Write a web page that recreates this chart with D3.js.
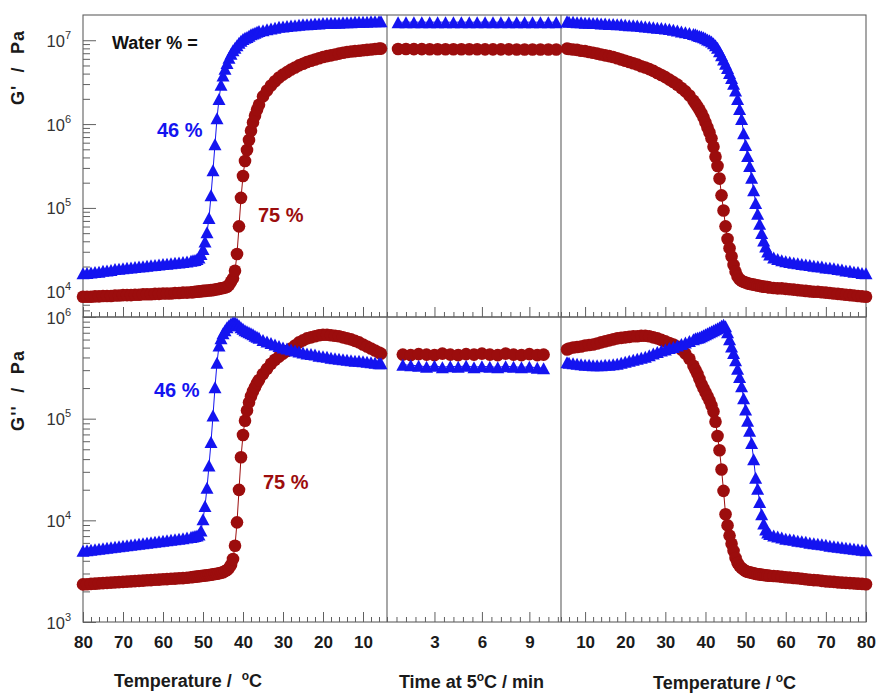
<!DOCTYPE html>
<html><head><meta charset="utf-8">
<script src="https://cdn.jsdelivr.net/npm/d3@7"></script>
<style>
body{margin:0;background:#fff}
svg{display:block}
text{font-family:"Liberation Sans",Arial,Helvetica,sans-serif}
</style>
</head><body>
<svg id="c" width="877" height="694"></svg>
<script>
// ---------------- DATA (log10 of modulus in Pa) ----------------
// Cooling ramp 80 -> 5.5 °C (left panels)
const coolTemps = [80,79,78,77,76,75,74,73,72,71,70,69,68,67,66,65,64,63,62,61,60,59,58,57,56,55,54,53,
  52.5,52,51.5,51,50.5,50,49.5,49,48.5,48,47.5,47,46.5,46,45.5,45,44.5,44,43.5,43,42.5,42,41.5,41,40.5,40,39.5,39,38.5,38,37.5,37,36.5,36,
  35,34,33,32,31,30,29,28,27,26,25,24,23,22,21,20,19,18,17,16,15,14,13,12,11,10,9,8,7,6,5.5];
// Heating ramp 5.5 -> 80 °C (right panels)
const heatTemps = [5.5,6,7,8,9,10,11,12,13,14,15,16,17,18,19,20,21,22,23,24,25,26,27,28,29,30,31,32,33,34,35,36,37,
  37.5,38,38.5,39,39.5,40,40.5,41,41.5,42,42.5,43,43.5,44,44.5,45,45.5,46,46.5,47,47.5,48,48.5,49,49.5,50,50.5,51,51.5,52,52.5,53,53.5,54,54.5,55,55.5,56,
  57,58,59,60,61,62,63,64,65,66,67,68,69,70,71,72,73,74,75,76,77,78,79,80];
// Isothermal hold at 5 °C (middle panels), minutes
const holdTimeTop = [0.7,1.2,1.7,2.2,2.7,3.2,3.7,4.2,4.7,5.2,5.7,6.2,6.7,7.2,7.7,8.2,8.7,9.2,9.7,10.2,10.7];
const holdTimeBottom = [1.0,1.5,2.0,2.5,3.0,3.5,4.0,4.5,5.0,5.5,6.0,6.5,7.0,7.5,8.0,8.5,9.0,9.5,9.9];

// G' 46 % water, cooling
const logGp46Cool = [4.22,4.225,4.23,4.235,4.24,4.25,4.255,4.26,4.27,4.275,4.28,4.285,4.29,4.295,4.30,4.305,4.31,4.315,4.32,4.325,4.33,4.335,4.34,4.345,4.35,4.355,4.36,4.37,
  4.375,4.38,4.39,4.41,4.45,4.51,4.60,4.71,4.88,5.15,5.45,5.76,6.07,6.30,6.47,6.58,6.66,6.73,6.79,6.84,6.88,6.91,6.94,6.97,6.995,7.015,7.03,7.04,7.055,7.07,7.08,7.09,7.10,7.11,
  7.12,7.13,7.14,7.15,7.16,7.165,7.17,7.175,7.18,7.185,7.19,7.19,7.195,7.20,7.20,7.205,7.205,7.21,7.21,7.21,7.215,7.215,7.215,7.22,7.22,7.22,7.22,7.225,7.225,7.225,7.225];
// G' 75 % water, cooling
const logGp75Cool = [3.94,3.94,3.94,3.945,3.945,3.95,3.95,3.95,3.955,3.955,3.96,3.96,3.96,3.965,3.965,3.97,3.97,3.97,3.975,3.975,3.98,3.98,3.98,3.985,3.985,3.99,3.99,3.995,
  3.995,4.0,4.0,4.005,4.005,4.01,4.01,4.015,4.015,4.02,4.02,4.025,4.03,4.035,4.04,4.045,4.05,4.06,4.08,4.12,4.16,4.25,4.45,4.78,5.12,5.38,5.56,5.69,5.81,5.92,6.02,6.10,6.17,6.23,
  6.33,6.40,6.46,6.51,6.555,6.59,6.62,6.65,6.675,6.70,6.72,6.74,6.755,6.77,6.785,6.80,6.81,6.82,6.83,6.84,6.85,6.86,6.865,6.87,6.875,6.88,6.885,6.89,6.895,6.90,6.90];
// G'' 46 % water, cooling
const logGpp46Cool = [3.70,3.705,3.71,3.715,3.72,3.725,3.73,3.735,3.74,3.745,3.75,3.755,3.76,3.765,3.77,3.775,3.78,3.785,3.79,3.795,3.80,3.805,3.81,3.815,3.82,3.825,3.83,3.835,
  3.84,3.845,3.85,3.86,3.90,4.01,4.14,4.32,4.54,4.77,5.03,5.31,5.55,5.72,5.79,5.84,5.87,5.90,5.92,5.935,5.945,5.945,5.935,5.92,5.90,5.885,5.87,5.86,5.85,5.84,5.83,5.815,5.805,5.795,
  5.775,5.76,5.745,5.73,5.715,5.70,5.69,5.68,5.67,5.66,5.65,5.64,5.635,5.63,5.62,5.615,5.61,5.60,5.595,5.59,5.585,5.58,5.575,5.57,5.57,5.565,5.56,5.555,5.55,5.545,5.545];
// G'' 75 % water, cooling
const logGpp75Cool = [3.37,3.372,3.375,3.377,3.38,3.382,3.385,3.387,3.39,3.392,3.395,3.397,3.40,3.402,3.405,3.407,3.41,3.412,3.415,3.417,3.42,3.422,3.425,3.427,3.43,3.432,3.435,3.44,
  3.442,3.445,3.447,3.45,3.452,3.455,3.457,3.46,3.462,3.465,3.47,3.472,3.475,3.48,3.485,3.49,3.50,3.51,3.53,3.56,3.62,3.75,3.98,4.30,4.62,4.84,4.98,5.08,5.16,5.22,5.27,5.31,5.35,5.38,
  5.44,5.49,5.54,5.58,5.61,5.64,5.665,5.69,5.72,5.75,5.77,5.79,5.80,5.81,5.82,5.825,5.825,5.82,5.815,5.81,5.80,5.79,5.78,5.765,5.75,5.73,5.71,5.69,5.67,5.65,5.64];

// G' 46 % water, heating
const logGp46Heat = [7.225,
  7.22,7.22,7.215,7.215,7.21,7.21,7.205,7.205,7.20,7.20,7.195,7.195,7.19,7.19,7.185,7.18,7.18,7.175,7.17,7.165,7.16,7.155,7.15,7.145,7.14,7.135,7.125,7.115,7.105,7.095,7.085,7.075,
  7.07,7.06,7.05,7.045,7.035,7.025,7.01,7.0,6.985,6.965,6.94,6.91,6.87,6.82,6.77,6.72,6.67,6.61,6.55,6.48,6.40,6.30,6.18,6.06,5.89,5.75,5.62,5.50,5.36,5.21,5.06,4.93,4.81,4.70,4.61,4.54,4.48,4.445,
  4.41,4.39,4.375,4.365,4.355,4.345,4.34,4.33,4.325,4.32,4.31,4.305,4.30,4.29,4.285,4.28,4.27,4.265,4.255,4.25,4.24,4.235,4.225,4.22];
// G' 75 % water, heating
const logGp75Heat = [6.90,
  6.895,6.89,6.885,6.875,6.87,6.86,6.85,6.84,6.83,6.82,6.81,6.80,6.785,6.77,6.755,6.74,6.725,6.71,6.69,6.675,6.655,6.635,6.61,6.585,6.56,6.53,6.50,6.47,6.43,6.39,6.34,6.28,
  6.245,6.21,6.17,6.13,6.08,6.02,5.96,5.90,5.83,5.73,5.61,5.50,5.35,5.15,4.97,4.78,4.63,4.52,4.42,4.32,4.24,4.18,4.15,4.13,4.12,4.11,4.10,4.095,4.09,4.085,4.08,4.075,4.07,4.065,4.06,4.06,4.055,4.05,
  4.045,4.04,4.04,4.035,4.03,4.025,4.02,4.015,4.01,4.005,4.0,4.0,3.995,3.99,3.985,3.98,3.975,3.97,3.965,3.96,3.955,3.95,3.945,3.94];
// G'' 46 % water, heating
const logGpp46Heat = [5.555,
  5.55,5.545,5.54,5.535,5.53,5.53,5.525,5.525,5.525,5.53,5.53,5.535,5.54,5.55,5.56,5.57,5.58,5.59,5.60,5.61,5.625,5.64,5.655,5.67,5.68,5.695,5.705,5.72,5.735,5.75,5.765,5.78,
  5.79,5.795,5.80,5.81,5.82,5.83,5.84,5.85,5.86,5.87,5.88,5.89,5.90,5.915,5.925,5.91,5.85,5.78,5.71,5.645,5.575,5.49,5.41,5.32,5.20,5.09,4.98,4.88,4.76,4.60,4.42,4.31,4.18,4.06,3.97,3.91,3.88,3.865,
  3.85,3.84,3.83,3.82,3.815,3.81,3.80,3.795,3.79,3.78,3.775,3.77,3.765,3.76,3.75,3.745,3.74,3.735,3.73,3.725,3.72,3.715,3.71,3.705];
// G'' 75 % water, heating
const logGpp75Heat = [5.68,
  5.69,5.70,5.705,5.71,5.72,5.725,5.73,5.74,5.75,5.76,5.77,5.78,5.79,5.795,5.80,5.805,5.81,5.81,5.815,5.815,5.81,5.80,5.79,5.775,5.76,5.745,5.73,5.71,5.68,5.64,5.59,5.52,
  5.48,5.44,5.39,5.34,5.30,5.26,5.22,5.18,5.13,5.07,4.97,4.83,4.69,4.50,4.29,4.06,3.95,3.85,3.77,3.70,3.63,3.58,3.55,3.53,3.515,3.50,3.495,3.49,3.485,3.48,3.475,3.47,3.468,3.465,3.462,3.46,3.458,3.455,
  3.452,3.45,3.445,3.44,3.437,3.433,3.43,3.425,3.42,3.415,3.412,3.41,3.405,3.40,3.397,3.395,3.39,3.387,3.385,3.382,3.38,3.377,3.375,3.372];

// Hold at 5 °C
const logGp46Hold = [7.215,7.215,7.216,7.215,7.215,7.216,7.215,7.215,7.216,7.215,7.215,7.216,7.215,7.215,7.216,7.215,7.215,7.216,7.215,7.215,7.216];
const logGp75Hold = [6.895,6.895,6.894,6.894,6.893,6.893,6.893,6.892,6.892,6.892,6.892,6.891,6.891,6.891,6.891,6.890,6.890,6.890,6.890,6.890,6.890];
const logGpp75Hold = [5.63,5.625,5.635,5.63,5.625,5.64,5.63,5.625,5.635,5.63,5.64,5.63,5.625,5.64,5.63,5.625,5.635,5.625,5.63];
const logGpp46Hold = [5.53,5.525,5.52,5.51,5.52,5.505,5.515,5.51,5.52,5.505,5.515,5.51,5.505,5.515,5.51,5.505,5.51,5.50,5.495];

// Tick values
const tempMajorCool = [80,70,60,50,40,30,20,10];
const tempMajorHeat = [10,20,30,40,50,60,70,80];
const tempMinor = [78,76,74,72,68,66,64,62,58,56,54,52,48,46,44,42,38,36,34,32,28,26,24,22,18,16,14,12,8,6,4];
const timeMajor = [3,6,9];
const timeMinor = [0.6,1.2,1.8,2.4,3.6,4.2,4.8,5.4,6.6,7.2,7.8,8.4,9.6,10.2,10.8];
const yMajorTop = [1e4,1e5,1e6,1e7];
const yMajorBot = [1e3,1e4,1e5,1e6];

// ---------------- DRAWING ----------------
const BLUE = "#1414f0", RED = "#9c0d0d", FRAME = "#606060";
const svg = d3.select("#c");

const yTop = d3.scaleLog().domain([5e3, 2e7]).range([317, 15]);
const yBot = d3.scaleLog().domain([1e3, 1e6]).range([622, 317]);
const xL = d3.scaleLinear().domain([80, 4]).range([83, 387]);
const xM = d3.scaleLinear().domain([0, 11]).range([387, 561]);
const xR = d3.scaleLinear().domain([4, 80]).range([561, 866]);

function minorLog(scale){
  const [a,b] = scale.domain(); const out=[];
  for(let e=Math.floor(Math.log10(a)); e<=Math.ceil(Math.log10(b)); e++){
    for(let m=2;m<=9;m++){ const v=m*Math.pow(10,e); if(v>a*1.001 && v<b*0.999) out.push(v); }
  }
  return out;
}

// ---- axes / ticks ----
const axG = svg.append("g");
function xTicks(xs, majors, minors, y, labels){
  axG.append("g").attr("transform",`translate(0,${y})`)
    .call(d3.axisBottom(xs).tickValues(minors).tickSizeInner(-5).tickSizeOuter(0).tickFormat(""))
    .call(g=>g.select(".domain").remove())
    .call(g=>g.selectAll("line").attr("stroke",FRAME));
  const g = axG.append("g").attr("transform",`translate(0,${y})`)
    .call(d3.axisBottom(xs).tickValues(majors).tickSizeInner(-10).tickSizeOuter(0).tickPadding(14)
      .tickFormat(labels ? d3.format("d") : ""))
    .call(g=>g.select(".domain").remove())
    .call(g=>g.selectAll("line").attr("stroke",FRAME));
  g.selectAll("text").attr("font-size",17).attr("font-weight","bold").attr("fill","#1a1a1a")
    .attr("font-family",'"Liberation Sans",Arial,sans-serif');
}
[[317,false],[622,true]].forEach(([y,lab])=>{
  xTicks(xL, tempMajorCool, tempMinor, y, lab);
  xTicks(xM, timeMajor, timeMinor, y, lab);
  xTicks(xR, tempMajorHeat, tempMinor, y, lab);
});

function yTicks(ys, majors){
  axG.append("g").attr("transform","translate(83,0)")
    .call(d3.axisLeft(ys).tickValues(minorLog(ys)).tickSizeInner(-7).tickSizeOuter(0).tickFormat(""))
    .call(g=>g.select(".domain").remove())
    .call(g=>g.selectAll("line").attr("stroke",FRAME));
  const g = axG.append("g").attr("transform","translate(83,0)")
    .call(d3.axisLeft(ys).tickValues(majors).tickSizeInner(-13).tickSizeOuter(0).tickPadding(12).tickFormat(""))
    .call(g=>g.select(".domain").remove())
    .call(g=>g.selectAll("line").attr("stroke",FRAME));
  g.selectAll(".tick text").each(function(d){
    const t = d3.select(this).attr("dy",null).attr("y",6)
      .attr("font-size",16.5).attr("fill","#333").attr("font-family",'"Liberation Sans",Arial,sans-serif');
    t.append("tspan").text("10");
    t.append("tspan").attr("font-size",11).attr("dy",-8).text(Math.round(Math.log10(d)));
  });
}
yTicks(yTop, yMajorTop);
yTicks(yBot, yMajorBot);

// ---- frames ----
const fr = svg.append("g").attr("fill","none").attr("stroke",FRAME).attr("stroke-width",1.1);
fr.append("rect").attr("x",xL(80)).attr("y",yTop(2e7)).attr("width",xR(80)-xL(80)).attr("height",yTop(5e3)-yTop(2e7));
fr.append("rect").attr("x",xL(80)).attr("y",yBot(1e6)).attr("width",xR(80)-xL(80)).attr("height",yBot(1e3)-yBot(1e6));
[xM(0), xM(11)].forEach(x=>fr.append("line").attr("x1",x).attr("x2",x).attr("y1",yTop(2e7)).attr("y2",yBot(1e3)));

// ---- series ----
const plot = svg.append("g");
function drawSeries(xs, logs, xS, yS, shape, color){
  if(xs.length!==logs.length) console.error("length mismatch", xs.length, logs.length);
  const pts = xs.map((t,i)=>[xS(t), yS(Math.pow(10, logs[i]))]);
  const g = plot.append("g");
  g.append("path").attr("d", d3.line()(pts)).attr("fill","none").attr("stroke",color).attr("stroke-width",1);
  if(shape==="circle"){
    g.selectAll("circle").data(pts).join("circle")
      .attr("cx",d=>d[0]).attr("cy",d=>d[1]).attr("r",6.3).attr("fill",color);
  } else {
    g.selectAll("path.m").data(pts).join("path").attr("class","m")
      .attr("transform",d=>`translate(${d[0]},${d[1]})`)
      .attr("d","M0,-6L6.5,6L-6.5,6Z").attr("fill",color);
  }
}
// top row (G')
drawSeries(coolTemps, logGp75Cool, xL, yTop, "circle", RED);
drawSeries(coolTemps, logGp46Cool, xL, yTop, "tri", BLUE);
drawSeries(holdTimeTop, logGp75Hold, xM, yTop, "circle", RED);
drawSeries(holdTimeTop, logGp46Hold, xM, yTop, "tri", BLUE);
drawSeries(heatTemps, logGp75Heat, xR, yTop, "circle", RED);
drawSeries(heatTemps, logGp46Heat, xR, yTop, "tri", BLUE);
// bottom row (G'')
drawSeries(coolTemps, logGpp75Cool, xL, yBot, "circle", RED);
drawSeries(coolTemps, logGpp46Cool, xL, yBot, "tri", BLUE);
drawSeries(holdTimeBottom, logGpp75Hold, xM, yBot, "circle", RED);
drawSeries(holdTimeBottom, logGpp46Hold, xM, yBot, "tri", BLUE);
drawSeries(heatTemps, logGpp75Heat, xR, yBot, "circle", RED);
drawSeries(heatTemps, logGpp46Heat, xR, yBot, "tri", BLUE);

// ---- texts ----
const tx = svg.append("g").attr("font-weight","bold");
function ytitle(str, cy, len){
  tx.append("text").attr("transform",`translate(24,${cy}) rotate(-90)`)
    .attr("text-anchor","middle").attr("font-size",18).attr("fill","#1a1a1a")
    .attr("textLength",len).attr("lengthAdjust","spacing")
    .style("white-space","pre").text(str);
}
ytitle("G'  /  Pa", 68, 74);
ytitle("G''  /  Pa", 391, 80);

function label(x,y,str,color,size){
  tx.append("text").attr("x",x).attr("y",y).attr("font-size",size).attr("fill",color)
    .style("white-space","pre").text(str);
}
label(112, 48.5, "Water % =", "#111", 18);
label(157, 137, "46 %", BLUE, 20);
label(258, 222, "75 %", RED, 20);
label(154, 397, "46 %", BLUE, 20);
label(263, 489, "75 %", RED, 20);

function xtitle(cx, y, pre, post){
  const t = tx.append("text").attr("x",cx).attr("y",y).attr("text-anchor","middle")
    .attr("font-size",18).attr("fill","#1a1a1a").style("white-space","pre");
  t.append("tspan").text(pre);
  t.append("tspan").attr("font-size",12).attr("dy",-7).text("o");
  t.append("tspan").attr("dy",7).text(post);
}
xtitle(188, 687, "Temperature /  ", "C");
xtitle(471.5, 688, "Time at 5", "C / min");
xtitle(724.5, 689, "Temperature / ", "C");
</script>
</body></html>
